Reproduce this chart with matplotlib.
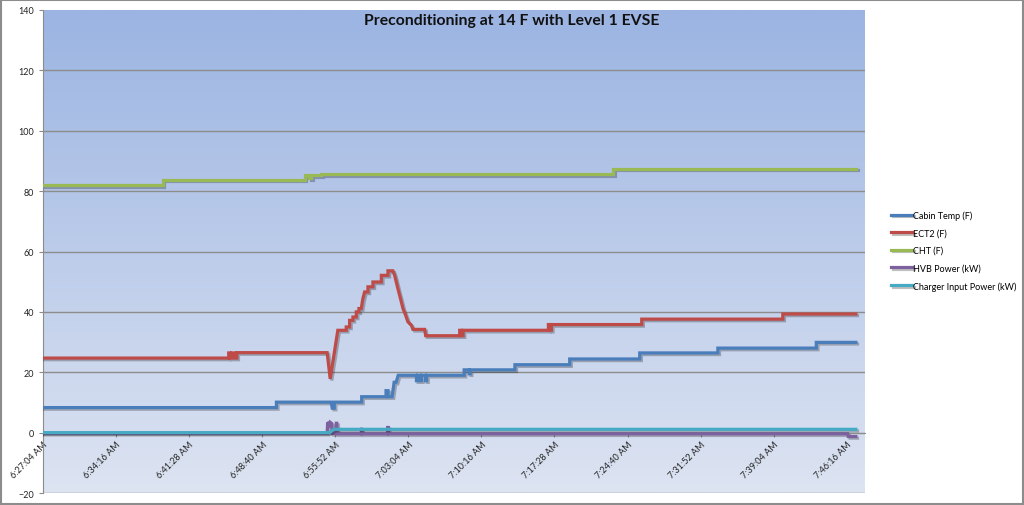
import matplotlib.pyplot as plt
import matplotlib.patheffects as pe
from matplotlib.patches import Rectangle
import numpy as np

plt.rcParams['font.family'] = ['Lato', 'DejaVu Sans']

# time in minutes after 6:27:04 AM
tick_pos = [0, 7.2, 14.4, 21.6, 28.8, 36.0, 43.2, 50.4, 57.6, 64.8, 72.0, 79.2]
tick_labels = ['6:27:04 AM', '6:34:16 AM', '6:41:28 AM', '6:48:40 AM', '6:55:52 AM',
               '7:03:04 AM', '7:10:16 AM', '7:17:28 AM', '7:24:40 AM', '7:31:52 AM',
               '7:39:04 AM', '7:46:16 AM']

cabin_t = [0, 23.0, 23.0, 28.4, 28.5, 28.7, 28.7, 31.4, 31.4, 33.8, 33.8, 34.0, 34.0, 34.4, 34.6,
           34.8, 35.0, 36.8, 36.8, 36.9, 36.9, 37.2, 37.2, 37.3, 37.3, 37.7, 37.7, 37.8, 37.8,
           41.5, 41.5, 42.0, 42.0, 42.1, 42.1, 46.5, 46.5, 51.9, 51.9, 58.8, 58.8, 66.5, 66.5,
           76.2, 76.2, 80.1]
cabin_v = [8.3, 8.3, 10.1, 10.1, 8.1, 8.1, 10.1, 10.1, 11.9, 11.9, 13.9, 13.9, 11.9, 11.9, 16.7,
           16.7, 19.0, 19.0, 17.2, 17.2, 19.0, 19.0, 17.2, 17.2, 19.0, 19.0, 17.2, 17.2, 19.0,
           19.0, 20.8, 20.8, 19.5, 19.5, 20.8, 20.8, 22.5, 22.5, 24.4, 24.4, 26.4, 26.4, 28.0,
           28.0, 29.9, 29.9]

ect2_t = [0, 18.3, 18.3, 18.4, 18.4, 18.6, 18.6, 18.9, 18.9, 19.1, 19.1, 28.0, 28.3, 29.05,
          29.88, 29.88, 30.21, 30.21, 30.54, 30.54, 30.87, 30.87, 31.13, 31.13, 31.36, 31.52,
          31.69, 32.02, 32.02, 32.51, 32.51, 33.34, 33.34, 33.99, 33.99, 34.48, 34.65, 34.81,
          34.97, 35.14, 35.31, 35.47, 35.73, 35.96, 36.30, 36.45, 37.61, 37.71, 41.06, 41.06,
          41.2, 41.2, 41.4, 41.4, 49.8, 49.8, 49.95, 49.95, 50.1, 50.1, 59.0, 59.0, 72.9, 72.9,
          80.1]
ect2_v = [24.7, 24.7, 26.4, 26.4, 24.7, 24.7, 26.4, 26.4, 24.7, 24.7, 26.5, 26.5, 17.8, 33.9,
          33.9, 35.0, 35.0, 37.2, 37.2, 38.3, 38.3, 40.0, 40.0, 41.1, 41.1, 44.4,
          46.6, 46.6, 48.3, 48.3, 49.9, 49.9, 52.1, 52.1, 53.6, 53.6, 52.1, 49.9,
          47.7, 45.5, 43.3, 41.1, 38.9, 36.7, 35.6, 34.2, 34.2, 32.1, 32.1, 33.9,
          33.9, 32.1, 32.1, 33.9, 33.9, 35.8, 35.8, 33.9, 33.9, 35.8, 35.8, 37.6, 37.6, 39.3,
          39.3]

cht_t = [0, 11.8, 11.8, 25.8, 25.8, 26.2, 26.2, 26.4, 26.4, 27.4, 27.4, 56.2, 56.2, 80.1]
cht_v = [82.0, 82.0, 83.8, 83.8, 85.3, 85.3, 84.2, 84.2, 85.3, 85.3, 85.6, 85.6, 87.4, 87.4]

hvb_t = [0, 28.0, 28.05, 28.1, 28.15, 28.2, 28.3, 28.45, 28.5, 28.85, 28.9, 28.95, 29.0,
         31.35, 31.4, 31.45, 33.95, 34.0, 34.05, 79.3, 79.35, 80.1]
hvb_v = [-0.2, -0.2, 3.5, 1.5, 3.6, 2.0, 3.4, 3.0, -0.3, -0.3, 3.1, 3.1, -0.4,
         -0.4, 1.6, -0.4, -0.4, 2.2, -0.4, -0.4, -1.3, -1.3]

charger_t = [0, 28.25, 28.66, 80.1]
charger_v = [0.0, 0.0, 1.1, 1.1]

series = [
    ('Cabin Temp (F)', cabin_t, cabin_v, '#4A7EBB'),
    ('ECT2 (F)', ect2_t, ect2_v, '#BE4B48'),
    ('CHT (F)', cht_t, cht_v, '#98B954'),
    ('HVB Power (kW)', hvb_t, hvb_v, '#7D60A0'),
    ('Charger Input Power (kW)', charger_t, charger_v, '#46AAC5'),
]

fig = plt.figure(figsize=(10.24, 5.06), dpi=100)
ax = fig.add_axes([43 / 1024, 1 - 494 / 506, 822 / 1024, 483 / 506])

# plot area gradient (darker blue at top)
top = np.array([155, 180, 226]) / 255
bot = np.array([221, 228, 242]) / 255
grad = np.linspace(0, 1, 256)[:, None, None]
img = top * (1 - grad) + bot * grad
ax.imshow(img, extent=[0, 81.0, -20, 140], aspect='auto', zorder=0, origin='upper')

ax.set_xlim(0, 81.0)
ax.set_ylim(-20, 140)
ax.set_yticks(range(-20, 141, 20))
for y in range(-20, 121, 20):
    ax.axhline(y, color='#8C8C8C', lw=1.0, zorder=1)

shadow = [pe.SimpleLineShadow(offset=(1.2, -1.2), alpha=0.25), pe.Normal()]
for name, t, v, c in series:
    ax.plot(t, v, color=c, lw=2.3, label=name, zorder=3, path_effects=shadow,
            solid_joinstyle='miter')

for s in ['top', 'right']:
    ax.spines[s].set_visible(False)
ax.spines['left'].set_color('#8C8C8C')
ax.spines['bottom'].set_position(('data', 0))
ax.spines['bottom'].set_color('#8C8C8C')
ax.spines['bottom'].set_zorder(2)

ax.set_xticks(tick_pos)
ax.set_xticklabels(tick_labels, rotation=45, ha='right', rotation_mode='anchor',
                   fontsize=6.5, color='#222222')
ax.tick_params(axis='x', length=3, color='#8C8C8C', pad=2)
ax.tick_params(axis='y', length=3, color='#8C8C8C', labelsize=6.5, labelcolor='#222222')

fig.text(0.5, 1 - 21 / 506, 'Preconditioning at 14 F with Level 1 EVSE',
         ha='center', va='center', fontsize=11.3, fontweight='bold', color='#111111')

fig.legend(loc='upper left', bbox_to_anchor=(883 / 1024, 1 - 203 / 506), frameon=False,
           fontsize=6.5, handlelength=2.3, labelspacing=0.95, handletextpad=0.1)

fig.patches.append(Rectangle((0.001, 0.002), 0.998, 0.996, transform=fig.transFigure,
                             fill=False, edgecolor='#8C8C8C', lw=1.5))

fig.savefig('out.png', dpi=100)
